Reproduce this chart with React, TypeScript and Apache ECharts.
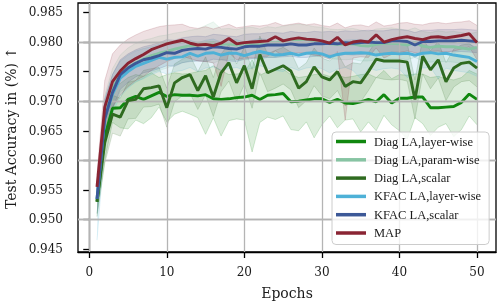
import React, { useEffect, useRef } from "react";
import * as echarts from "echarts";

const epochs = [1, 2, 3, 4, 5, 6, 7, 8, 9, 10, 11, 12, 13, 14, 15, 16, 17, 18, 19, 20, 21, 22, 23, 24, 25, 26, 27, 28, 29, 30, 31, 32, 33, 34, 35, 36, 37, 38, 39, 40, 41, 42, 43, 44, 45, 46, 47, 48, 49, 50];

const seriesNames = ["Diag LA,layer-wise", "Diag LA,param-wise", "Diag LA,scalar", "KFAC LA,layer-wise", "KFAC LA,scalar", "MAP"];
const seriesColors = ["#10870f", "#87c4a3", "#2f6b20", "#4eb1d7", "#3c5897", "#8a2433"];

const xTicks = [0, 10, 20, 30, 40, 50];
const yTicks = [0.945, 0.95, 0.955, 0.96, 0.965, 0.97, 0.975, 0.98, 0.985];

// Diag LA, layer-wise
const diagLayerMean = [0.9530, 0.9640, 0.9688, 0.9689, 0.9703, 0.9708, 0.9703, 0.9709, 0.9715, 0.9708, 0.9711, 0.9710, 0.9710, 0.9709, 0.9711, 0.9704, 0.9703, 0.9704, 0.9706, 0.9707, 0.9710, 0.9703, 0.9710, 0.9711, 0.9713, 0.9699, 0.9700, 0.9702, 0.9704, 0.9704, 0.9698, 0.9703, 0.9697, 0.9696, 0.9699, 0.9703, 0.9699, 0.9711, 0.9697, 0.9705, 0.9705, 0.9707, 0.9707, 0.9689, 0.9689, 0.9690, 0.9691, 0.9698, 0.9712, 0.9703];
const diagLayerHi = [0.9550, 0.9680, 0.9725, 0.9730, 0.9740, 0.9745, 0.9742, 0.9748, 0.9740, 0.9745, 0.9748, 0.9746, 0.9747, 0.9750, 0.9752, 0.9760, 0.9752, 0.9745, 0.9746, 0.9748, 0.9770, 0.9744, 0.9750, 0.9752, 0.9754, 0.9745, 0.9740, 0.9742, 0.9745, 0.9746, 0.9742, 0.9744, 0.9740, 0.9742, 0.9745, 0.9746, 0.9740, 0.9752, 0.9738, 0.9745, 0.9744, 0.9746, 0.9746, 0.9740, 0.9742, 0.9738, 0.9736, 0.9740, 0.9752, 0.9746];
const diagLayerLo = [0.9510, 0.9600, 0.9664, 0.9655, 0.9653, 0.9668, 0.9662, 0.9672, 0.9690, 0.9665, 0.9678, 0.9683, 0.9678, 0.9672, 0.9644, 0.9672, 0.9641, 0.9667, 0.9670, 0.9668, 0.9614, 0.9664, 0.9673, 0.9669, 0.9675, 0.9652, 0.9650, 0.9665, 0.9638, 0.9660, 0.9675, 0.9655, 0.9668, 0.9670, 0.9648, 0.9665, 0.9650, 0.9676, 0.9660, 0.9650, 0.9636, 0.9672, 0.9662, 0.9642, 0.9656, 0.9662, 0.9640, 0.9652, 0.9675, 0.9660];

// Diag LA, param-wise
const diagParamMean = [0.9532, 0.9675, 0.9720, 0.9747, 0.9757, 0.9765, 0.9771, 0.9777, 0.9781, 0.9784, 0.9788, 0.9791, 0.9794, 0.9795, 0.9798, 0.9799, 0.9796, 0.9797, 0.9795, 0.9797, 0.9798, 0.9797, 0.9800, 0.9799, 0.9802, 0.9804, 0.9804, 0.9805, 0.9801, 0.9800, 0.9797, 0.9796, 0.9796, 0.9797, 0.9794, 0.9793, 0.9796, 0.9798, 0.9798, 0.9797, 0.9795, 0.9799, 0.9793, 0.9791, 0.9793, 0.9792, 0.9792, 0.9790, 0.9788, 0.9791];
const diagParamHi = [0.9555, 0.9710, 0.9755, 0.9778, 0.9790, 0.9798, 0.9803, 0.9806, 0.9810, 0.9812, 0.9815, 0.9817, 0.9820, 0.9822, 0.9828, 0.9834, 0.9822, 0.9823, 0.9821, 0.9824, 0.9825, 0.9822, 0.9826, 0.9824, 0.9827, 0.9829, 0.9830, 0.9829, 0.9826, 0.9825, 0.9822, 0.9821, 0.9822, 0.9823, 0.9820, 0.9818, 0.9822, 0.9823, 0.9824, 0.9822, 0.9820, 0.9824, 0.9818, 0.9816, 0.9819, 0.9817, 0.9818, 0.9816, 0.9814, 0.9817];
const diagParamLo = [0.9505, 0.9640, 0.9685, 0.9716, 0.9724, 0.9732, 0.9739, 0.9748, 0.9752, 0.9756, 0.9761, 0.9765, 0.9768, 0.9768, 0.9768, 0.9764, 0.9770, 0.9771, 0.9769, 0.9770, 0.9771, 0.9772, 0.9774, 0.9774, 0.9777, 0.9779, 0.9778, 0.9781, 0.9776, 0.9775, 0.9772, 0.9771, 0.9770, 0.9771, 0.9768, 0.9768, 0.9770, 0.9773, 0.9772, 0.9772, 0.9770, 0.9774, 0.9768, 0.9766, 0.9767, 0.9767, 0.9766, 0.9764, 0.9762, 0.9765];

// Diag LA, scalar
const diagScalarMean = [0.9530, 0.9630, 0.9678, 0.9673, 0.9701, 0.9703, 0.9721, 0.9723, 0.9726, 0.9689, 0.9731, 0.9740, 0.9745, 0.9718, 0.9743, 0.9707, 0.9748, 0.9765, 0.9731, 0.9760, 0.9721, 0.9779, 0.9748, 0.9754, 0.9760, 0.9751, 0.9722, 0.9733, 0.9758, 0.9741, 0.9736, 0.9750, 0.9725, 0.9733, 0.9731, 0.9750, 0.9771, 0.9768, 0.9768, 0.9768, 0.9766, 0.9703, 0.9776, 0.9753, 0.9770, 0.9733, 0.9756, 0.9764, 0.9766, 0.9756];
const diagScalarHi = [0.9555, 0.9665, 0.9710, 0.9705, 0.9732, 0.9735, 0.9752, 0.9755, 0.9757, 0.9722, 0.9763, 0.9771, 0.9777, 0.9750, 0.9775, 0.9740, 0.9780, 0.9796, 0.9763, 0.9792, 0.9754, 0.9810, 0.9780, 0.9786, 0.9791, 0.9783, 0.9755, 0.9765, 0.9790, 0.9773, 0.9768, 0.9782, 0.9758, 0.9765, 0.9763, 0.9782, 0.9802, 0.9799, 0.9800, 0.9799, 0.9798, 0.9736, 0.9806, 0.9785, 0.9801, 0.9765, 0.9788, 0.9795, 0.9797, 0.9788];
const diagScalarLo = [0.9505, 0.9595, 0.9646, 0.9641, 0.9670, 0.9671, 0.9690, 0.9691, 0.9695, 0.9656, 0.9699, 0.9709, 0.9713, 0.9686, 0.9711, 0.9674, 0.9716, 0.9734, 0.9699, 0.9728, 0.9688, 0.9748, 0.9716, 0.9722, 0.9729, 0.9719, 0.9689, 0.9701, 0.9726, 0.9709, 0.9704, 0.9718, 0.9692, 0.9701, 0.9699, 0.9718, 0.9740, 0.9737, 0.9736, 0.9737, 0.9734, 0.9670, 0.9746, 0.9721, 0.9739, 0.9701, 0.9724, 0.9733, 0.9735, 0.9724];

// KFAC LA, layer-wise
const kfacLayerMean = [0.9535, 0.9672, 0.9712, 0.9739, 0.9750, 0.9759, 0.9764, 0.9769, 0.9774, 0.9771, 0.9774, 0.9775, 0.9781, 0.9776, 0.9781, 0.9782, 0.9778, 0.9781, 0.9781, 0.9777, 0.9781, 0.9784, 0.9781, 0.9778, 0.9779, 0.9781, 0.9778, 0.9781, 0.9782, 0.9780, 0.9775, 0.9779, 0.9781, 0.9781, 0.9782, 0.9781, 0.9778, 0.9780, 0.9781, 0.9780, 0.9781, 0.9778, 0.9781, 0.9782, 0.9780, 0.9781, 0.9778, 0.9776, 0.9774, 0.9767];
const kfacLayerHi = [0.9560, 0.9705, 0.9745, 0.9768, 0.9778, 0.9785, 0.9789, 0.9792, 0.9796, 0.9794, 0.9797, 0.9798, 0.9803, 0.9799, 0.9803, 0.9805, 0.9800, 0.9803, 0.9804, 0.9800, 0.9803, 0.9806, 0.9804, 0.9800, 0.9801, 0.9803, 0.9801, 0.9803, 0.9805, 0.9802, 0.9798, 0.9801, 0.9803, 0.9804, 0.9804, 0.9803, 0.9801, 0.9802, 0.9803, 0.9802, 0.9803, 0.9801, 0.9803, 0.9804, 0.9802, 0.9803, 0.9801, 0.9798, 0.9797, 0.9790];
const kfacLayerLo = [0.9465, 0.9630, 0.9680, 0.9708, 0.9722, 0.9733, 0.9738, 0.9745, 0.9750, 0.9746, 0.9750, 0.9752, 0.9757, 0.9750, 0.9756, 0.9758, 0.9752, 0.9755, 0.9757, 0.9752, 0.9756, 0.9760, 0.9756, 0.9752, 0.9750, 0.9757, 0.9752, 0.9756, 0.9758, 0.9755, 0.9748, 0.9754, 0.9757, 0.9752, 0.9738, 0.9756, 0.9752, 0.9755, 0.9756, 0.9754, 0.9740, 0.9745, 0.9756, 0.9757, 0.9738, 0.9756, 0.9752, 0.9750, 0.9748, 0.9742];

// KFAC LA, scalar
const kfacScalarMean = [0.9535, 0.9670, 0.9715, 0.9745, 0.9756, 0.9764, 0.9770, 0.9773, 0.9777, 0.9782, 0.9781, 0.9786, 0.9788, 0.9789, 0.9788, 0.9792, 0.9791, 0.9789, 0.9788, 0.9792, 0.9793, 0.9793, 0.9795, 0.9795, 0.9795, 0.9797, 0.9795, 0.9795, 0.9797, 0.9797, 0.9798, 0.9797, 0.9799, 0.9798, 0.9799, 0.9800, 0.9799, 0.9799, 0.9802, 0.9802, 0.9801, 0.9795, 0.9801, 0.9801, 0.9802, 0.9802, 0.9802, 0.9803, 0.9802, 0.9801];
const kfacScalarHi = [0.9555, 0.9702, 0.9745, 0.9770, 0.9780, 0.9787, 0.9792, 0.9795, 0.9799, 0.9804, 0.9803, 0.9807, 0.9809, 0.9810, 0.9809, 0.9813, 0.9812, 0.9810, 0.9809, 0.9813, 0.9814, 0.9814, 0.9816, 0.9816, 0.9815, 0.9818, 0.9816, 0.9816, 0.9818, 0.9817, 0.9818, 0.9817, 0.9819, 0.9818, 0.9819, 0.9820, 0.9819, 0.9819, 0.9821, 0.9821, 0.9820, 0.9816, 0.9820, 0.9820, 0.9821, 0.9821, 0.9821, 0.9822, 0.9821, 0.9820];
const kfacScalarLo = [0.9510, 0.9640, 0.9688, 0.9720, 0.9732, 0.9741, 0.9748, 0.9751, 0.9755, 0.9760, 0.9759, 0.9765, 0.9767, 0.9768, 0.9767, 0.9771, 0.9770, 0.9768, 0.9767, 0.9771, 0.9772, 0.9772, 0.9774, 0.9774, 0.9775, 0.9776, 0.9774, 0.9774, 0.9776, 0.9777, 0.9778, 0.9777, 0.9779, 0.9778, 0.9779, 0.9780, 0.9779, 0.9779, 0.9783, 0.9783, 0.9782, 0.9774, 0.9782, 0.9782, 0.9783, 0.9783, 0.9783, 0.9784, 0.9783, 0.9782];

// MAP
const mapMean = [0.9555, 0.9690, 0.9733, 0.9751, 0.9764, 0.9772, 0.9779, 0.9787, 0.9792, 0.9797, 0.9800, 0.9803, 0.9798, 0.9795, 0.9796, 0.9794, 0.9798, 0.9806, 0.9797, 0.9799, 0.9800, 0.9801, 0.9802, 0.9809, 0.9802, 0.9805, 0.9807, 0.9805, 0.9804, 0.9802, 0.9798, 0.9808, 0.9795, 0.9800, 0.9802, 0.9800, 0.9812, 0.9800, 0.9804, 0.9807, 0.9809, 0.9806, 0.9804, 0.9808, 0.9809, 0.9807, 0.9809, 0.9811, 0.9814, 0.9799];
const mapHi = [0.9575, 0.9735, 0.9780, 0.9795, 0.9805, 0.9812, 0.9818, 0.9822, 0.9826, 0.9828, 0.9829, 0.9830, 0.9825, 0.9823, 0.9826, 0.9822, 0.9826, 0.9830, 0.9824, 0.9826, 0.9828, 0.9827, 0.9829, 0.9833, 0.9828, 0.9830, 0.9832, 0.9829, 0.9831, 0.9828, 0.9826, 0.9832, 0.9824, 0.9828, 0.9829, 0.9826, 0.9834, 0.9827, 0.9829, 0.9832, 0.9833, 0.9830, 0.9829, 0.9832, 0.9833, 0.9831, 0.9833, 0.9834, 0.9836, 0.9828];
const mapLo = [0.9535, 0.9645, 0.9690, 0.9710, 0.9725, 0.9735, 0.9742, 0.9752, 0.9760, 0.9767, 0.9772, 0.9776, 0.9772, 0.9768, 0.9767, 0.9765, 0.9725, 0.9782, 0.9770, 0.9773, 0.9773, 0.9775, 0.9776, 0.9785, 0.9777, 0.9780, 0.9782, 0.9781, 0.9778, 0.9776, 0.9771, 0.9784, 0.9668, 0.9773, 0.9775, 0.9774, 0.9790, 0.9773, 0.9779, 0.9782, 0.9785, 0.9782, 0.9779, 0.9784, 0.9785, 0.9783, 0.9785, 0.9788, 0.9792, 0.9770];

const means = [diagLayerMean, diagParamMean, diagScalarMean, kfacLayerMean, kfacScalarMean, mapMean];
const his = [diagLayerHi, diagParamHi, diagScalarHi, kfacLayerHi, kfacScalarHi, mapHi];
const los = [diagLayerLo, diagParamLo, diagScalarLo, kfacLayerLo, kfacScalarLo, mapLo];

const SERIF = "'DejaVu Serif', 'Liberation Serif', serif";
const LEGEND_FONT = "'Liberation Serif', 'DejaVu Serif', serif";

export default function App() {
  const ref = useRef<HTMLDivElement>(null);
  useEffect(() => {
    if (!ref.current) return;
    const chart = echarts.init(ref.current, null, { renderer: "svg" });
    const series: any[] = [];
    // grid lines as mark lines
    series.push({
      type: "line",
      name: "__grid",
      data: [[epochs[0], mapMean[0]]],
      showSymbol: false,
      lineStyle: { opacity: 0 },
      silent: true,
      z: 1,
      markLine: {
        silent: true,
        symbol: ["none", "none"],
        label: { show: false },
        lineStyle: { color: "#b4b4b4", width: 1.3, type: "solid" },
        emphasis: { disabled: true },
        data: [
          ...yTicks.map((v) => ({ yAxis: v })),
          ...xTicks.map((v) => ({ xAxis: v })),
        ],
      },
    });
    // shaded bands (custom polygons through the axis scales)
    means.forEach((_, i) => {
      const c = seriesColors[i];
      series.push({
        type: "custom",
        name: "__band" + i,
        silent: true,
        z: 2,
        data: [[epochs[0], means[i][0]]],
        encode: { x: 0, y: 1 },
        renderItem: (_p: any, api: any) => {
          const top = epochs.map((e, k) => api.coord([e, his[i][k]]));
          const bot = epochs.map((e, k) => api.coord([e, los[i][k]]));
          return {
            type: "group",
            children: [
              {
                type: "polygon",
                shape: { points: top.concat(bot.slice().reverse()) },
                style: { fill: c, opacity: 0.14 },
              },
              {
                type: "polyline",
                shape: { points: top },
                style: { stroke: c, fill: null, lineWidth: 0.8, opacity: 0.22 },
              },
              {
                type: "polyline",
                shape: { points: bot },
                style: { stroke: c, fill: null, lineWidth: 0.8, opacity: 0.22 },
              },
            ],
          };
        },
      });
    });
    // mean lines
    means.forEach((m, i) => {
      series.push({
        type: "line",
        name: seriesNames[i],
        data: epochs.map((e, k) => [e, m[k]]),
        showSymbol: false,
        symbol: "none",
        lineStyle: { color: seriesColors[i], width: 2.9 },
        itemStyle: { color: seriesColors[i] },
        z: 3 + i,
      });
    });

    chart.setOption({
      animation: false,
      grid: {
        left: 78,
        right: 3,
        top: 3,
        bottom: 52.5,
        show: true,
        borderColor: "#000",
        borderWidth: 1.3,
        backgroundColor: "transparent",
      },
      xAxis: {
        type: "value",
        min: -1.45,
        max: 52.45,
        axisLine: { show: true, lineStyle: { color: "#000", width: 1.3 } },
        axisTick: { show: true, customValues: xTicks, length: 6, lineStyle: { color: "#000", width: 1.3 } },
        axisLabel: {
          customValues: xTicks,
          margin: 14,
          color: "#1a1a1a",
          fontFamily: SERIF,
          fontSize: 12,
          formatter: (v: number) => String(v),
        },
        splitLine: { show: false },
        name: "Epochs",
        nameLocation: "middle",
        nameGap: 34,
        nameTextStyle: { fontFamily: SERIF, fontSize: 14, color: "#1a1a1a" },
      },
      yAxis: {
        type: "value",
        min: 0.9445,
        max: 0.9866,
        axisLine: { show: true, lineStyle: { color: "#000", width: 1.3 } },
        axisTick: { show: true, customValues: yTicks, length: 6, lineStyle: { color: "#000", width: 1.3 } },
        axisLabel: {
          customValues: yTicks,
          margin: 15,
          color: "#1a1a1a",
          fontFamily: SERIF,
          fontSize: 12,
          formatter: (v: number) => v.toFixed(3),
        },
        splitLine: { show: false },
      },
      graphic: [
        {
          type: "text",
          x: 11,
          y: 128,
          rotation: Math.PI / 2,
          style: {
            text: "Test Accuracy in (%) \u2191",
            fontFamily: SERIF,
            fontSize: 14,
            fill: "#1a1a1a",
            align: "center",
            verticalAlign: "middle",
          },
        },
      ],
      legend: {
        data: seriesNames,
        orient: "vertical",
        left: 332,
        top: 132,
        z: 50,
        padding: [3, 8, 5, 4],
        itemGap: 5.3,
        itemWidth: 30,
        itemHeight: 3.5,
        icon: "rect",
        backgroundColor: "rgba(255,255,255,0.8)",
        borderColor: "#cccccc",
        borderWidth: 1,
        borderRadius: 4,
        textStyle: {
          fontFamily: LEGEND_FONT,
          fontSize: 12.5,
          color: "#1a1a1a",
          padding: [0, 0, 0, 3],
        },
        selectedMode: false,
      },
      series,
    });
    return () => chart.dispose();
  }, []);
  return (
    <div
      ref={ref}
      style={{ position: "fixed", left: 0, top: 0, width: 499, height: 305 }}
    />
  );
}
